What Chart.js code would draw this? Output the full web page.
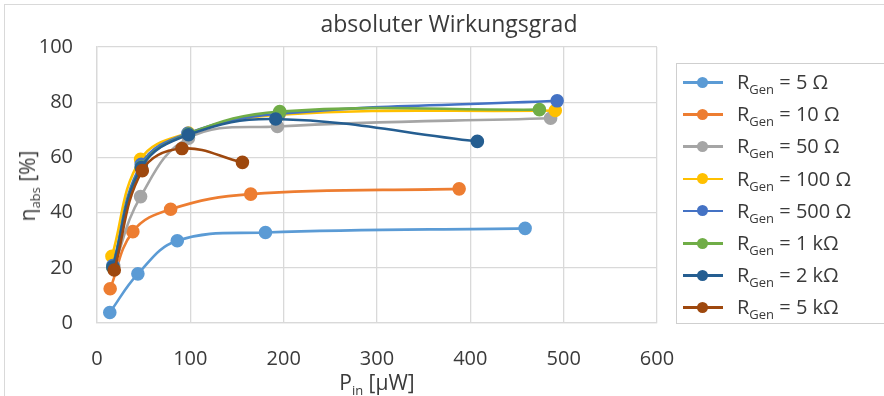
<!DOCTYPE html>
<html>
<head>
<meta charset="utf-8">
<script src="https://cdn.jsdelivr.net/npm/chart.js@4.4.1/dist/chart.umd.min.js"></script>
<style>
  html, body { margin: 0; padding: 0; background: #fff; }
  body {
    width: 884px; height: 396px; position: relative; overflow: hidden;
    font-family: "Open Sans", "Noto Sans", sans-serif; color: #3a3a3a;
  }
  #frame {
    position: absolute; left: 4px; top: 4px; width: 900px; height: 400px;
    border: 1px solid #d9d9d9; box-sizing: border-box;
  }
  #chart { position: absolute; left: 0; top: 0; }
  #title {
    position: absolute; left: 0; top: 8px; width: 898px;
    text-align: center; font-size: 23px; line-height: 30px; white-space: nowrap;
  }
  #xTitle {
    position: absolute; left: 377px; top: 368px; transform: translateX(-50%);
    font-size: 21px; line-height: 28px; white-space: nowrap;
  }
  #yTitle {
    position: absolute; left: 27px; top: 186px;
    transform: translate(-50%, -50%) rotate(-90deg);
    font-size: 21px; line-height: 28px; white-space: nowrap;
  }
  sub { font-size: 13px; vertical-align: -5px; line-height: 0; }
  #legend {
    position: absolute; left: 676px; top: 63px; width: 220px; height: 261px;
    border: 1px solid #cfcfcf; box-sizing: border-box; padding-top: 2px;
  }
  .item { height: 32.2px; display: flex; align-items: center; font-size: 20px; line-height: 28px; white-space: nowrap; }
  .key { position: relative; width: 40px; height: 12px; margin-left: 6px; margin-right: 14px; flex: none; }
  .key .ln { position: absolute; left: 0; right: 0; top: 5px; height: 2.5px; }
  .key .dot { position: absolute; left: 14px; top: 0.5px; width: 11px; height: 11px; border-radius: 50%; }
</style>
</head>
<body>
<div id="frame"></div>
<canvas id="chart" width="884" height="396"></canvas>
<div id="title">absoluter Wirkungsgrad</div>
<div id="yTitle">η<sub>abs</sub> [%]</div>
<div id="xTitle">P<sub>in</sub> [µW]</div>
<div id="legend"></div>

<script>
// Input power P_in [µW] and absolute efficiency η_abs [%] per generator resistance
const pIn5   = [13.7, 43.8, 86.0, 180.5, 458.7];
const eta5   = [3.8, 17.8, 29.8, 32.8, 34.3];

const pIn10  = [14.1, 38.4, 78.9, 164.7, 388.0];
const eta10  = [12.4, 33.1, 41.2, 46.7, 48.6];

const pIn50  = [18.0, 46.7, 98.0, 193.3, 486.0];
const eta50  = [20.5, 45.8, 67.0, 71.2, 74.2];

const pIn100 = [16.0, 46.7, 98.0, 195.0, 491.0];
const eta100 = [24.2, 59.3, 68.8, 75.5, 77.0];

const pIn500 = [17.0, 47.4, 97.4, 195.0, 493.0];
const eta500 = [20.8, 57.5, 68.7, 75.8, 80.5];

const pIn1k  = [17.0, 47.5, 98.0, 195.8, 474.0];
const eta1k  = [20.2, 56.5, 68.5, 76.6, 77.3];

const pIn2k  = [17.0, 47.5, 98.0, 191.5, 407.5];
const eta2k  = [20.3, 56.3, 68.2, 73.9, 65.8];

const pIn5k  = [18.5, 48.5, 91.0, 155.8];
const eta5k  = [19.2, 55.2, 63.2, 58.2];

const resistances = ["5 Ω", "10 Ω", "50 Ω", "100 Ω", "500 Ω", "1 kΩ", "2 kΩ", "5 kΩ"];
const xTicks = [0, 100, 200, 300, 400, 500, 600];
const yTicks = [0, 20, 40, 60, 80, 100];

const colors = ["#5B9BD5", "#ED7D31", "#A5A5A5", "#FFC000", "#4472C4", "#70AD47", "#255E91", "#9E480E"];
const xs = [pIn5, pIn10, pIn50, pIn100, pIn500, pIn1k, pIn2k, pIn5k];
const ys = [eta5, eta10, eta50, eta100, eta500, eta1k, eta2k, eta5k];

const FONT = { family: '"Open Sans", "Noto Sans", sans-serif', size: 20 };
const TEXT = "#3a3a3a";
const GRID = "#d9d9d9";

const datasets = resistances.map((r, i) => ({
  label: "RGen = " + r,
  data: xs[i].map((x, j) => ({ x: x, y: ys[i][j] })),
  showLine: true,
  borderColor: colors[i],
  backgroundColor: colors[i],
  pointBorderColor: colors[i],
  borderWidth: 2.6,
  pointRadius: 5.5,
  pointHoverRadius: 5.5,
  tension: 0.4,
  // later series are painted above earlier ones
  order: resistances.length - i
}));

new Chart(document.getElementById("chart"), {
  type: "scatter",
  data: { datasets: datasets },
  options: {
    responsive: false,
    animation: false,
    events: [],
    layout: { padding: { top: 47, right: 227, left: 0, bottom: 0 } },
    plugins: { legend: { display: false }, title: { display: false }, tooltip: { enabled: false } },
    scales: {
      x: {
        type: "linear",
        min: xTicks[0], max: xTicks[xTicks.length - 1],
        afterBuildTicks: s => { s.ticks = xTicks.map(v => ({ value: v })); },
        afterFit: s => { s.height = 73; },
        ticks: { font: FONT, color: TEXT, padding: 24, maxRotation: 0 },
        grid: { color: GRID, lineWidth: 1.3, drawTicks: false },
        border: { color: GRID, width: 1.3 }
      },
      y: {
        type: "linear",
        min: yTicks[0], max: yTicks[yTicks.length - 1],
        afterBuildTicks: s => { s.ticks = yTicks.map(v => ({ value: v })); },
        afterFit: s => { s.width = 97; },
        ticks: { font: FONT, color: TEXT, padding: 24 },
        grid: { color: GRID, lineWidth: 1.3, drawTicks: false },
        border: { color: GRID, width: 1.3 }
      }
    }
  }
});

// legend with subscripted labels
const legend = document.getElementById("legend");
resistances.forEach((r, i) => {
  const item = document.createElement("div");
  item.className = "item";
  item.innerHTML =
    '<span class="key"><span class="ln" style="background:' + colors[i] + '"></span>' +
    '<span class="dot" style="background:' + colors[i] + '"></span></span>' +
    '<span>R<sub>Gen</sub> = ' + r + '</span>';
  legend.appendChild(item);
});
</script>
</body>
</html>
